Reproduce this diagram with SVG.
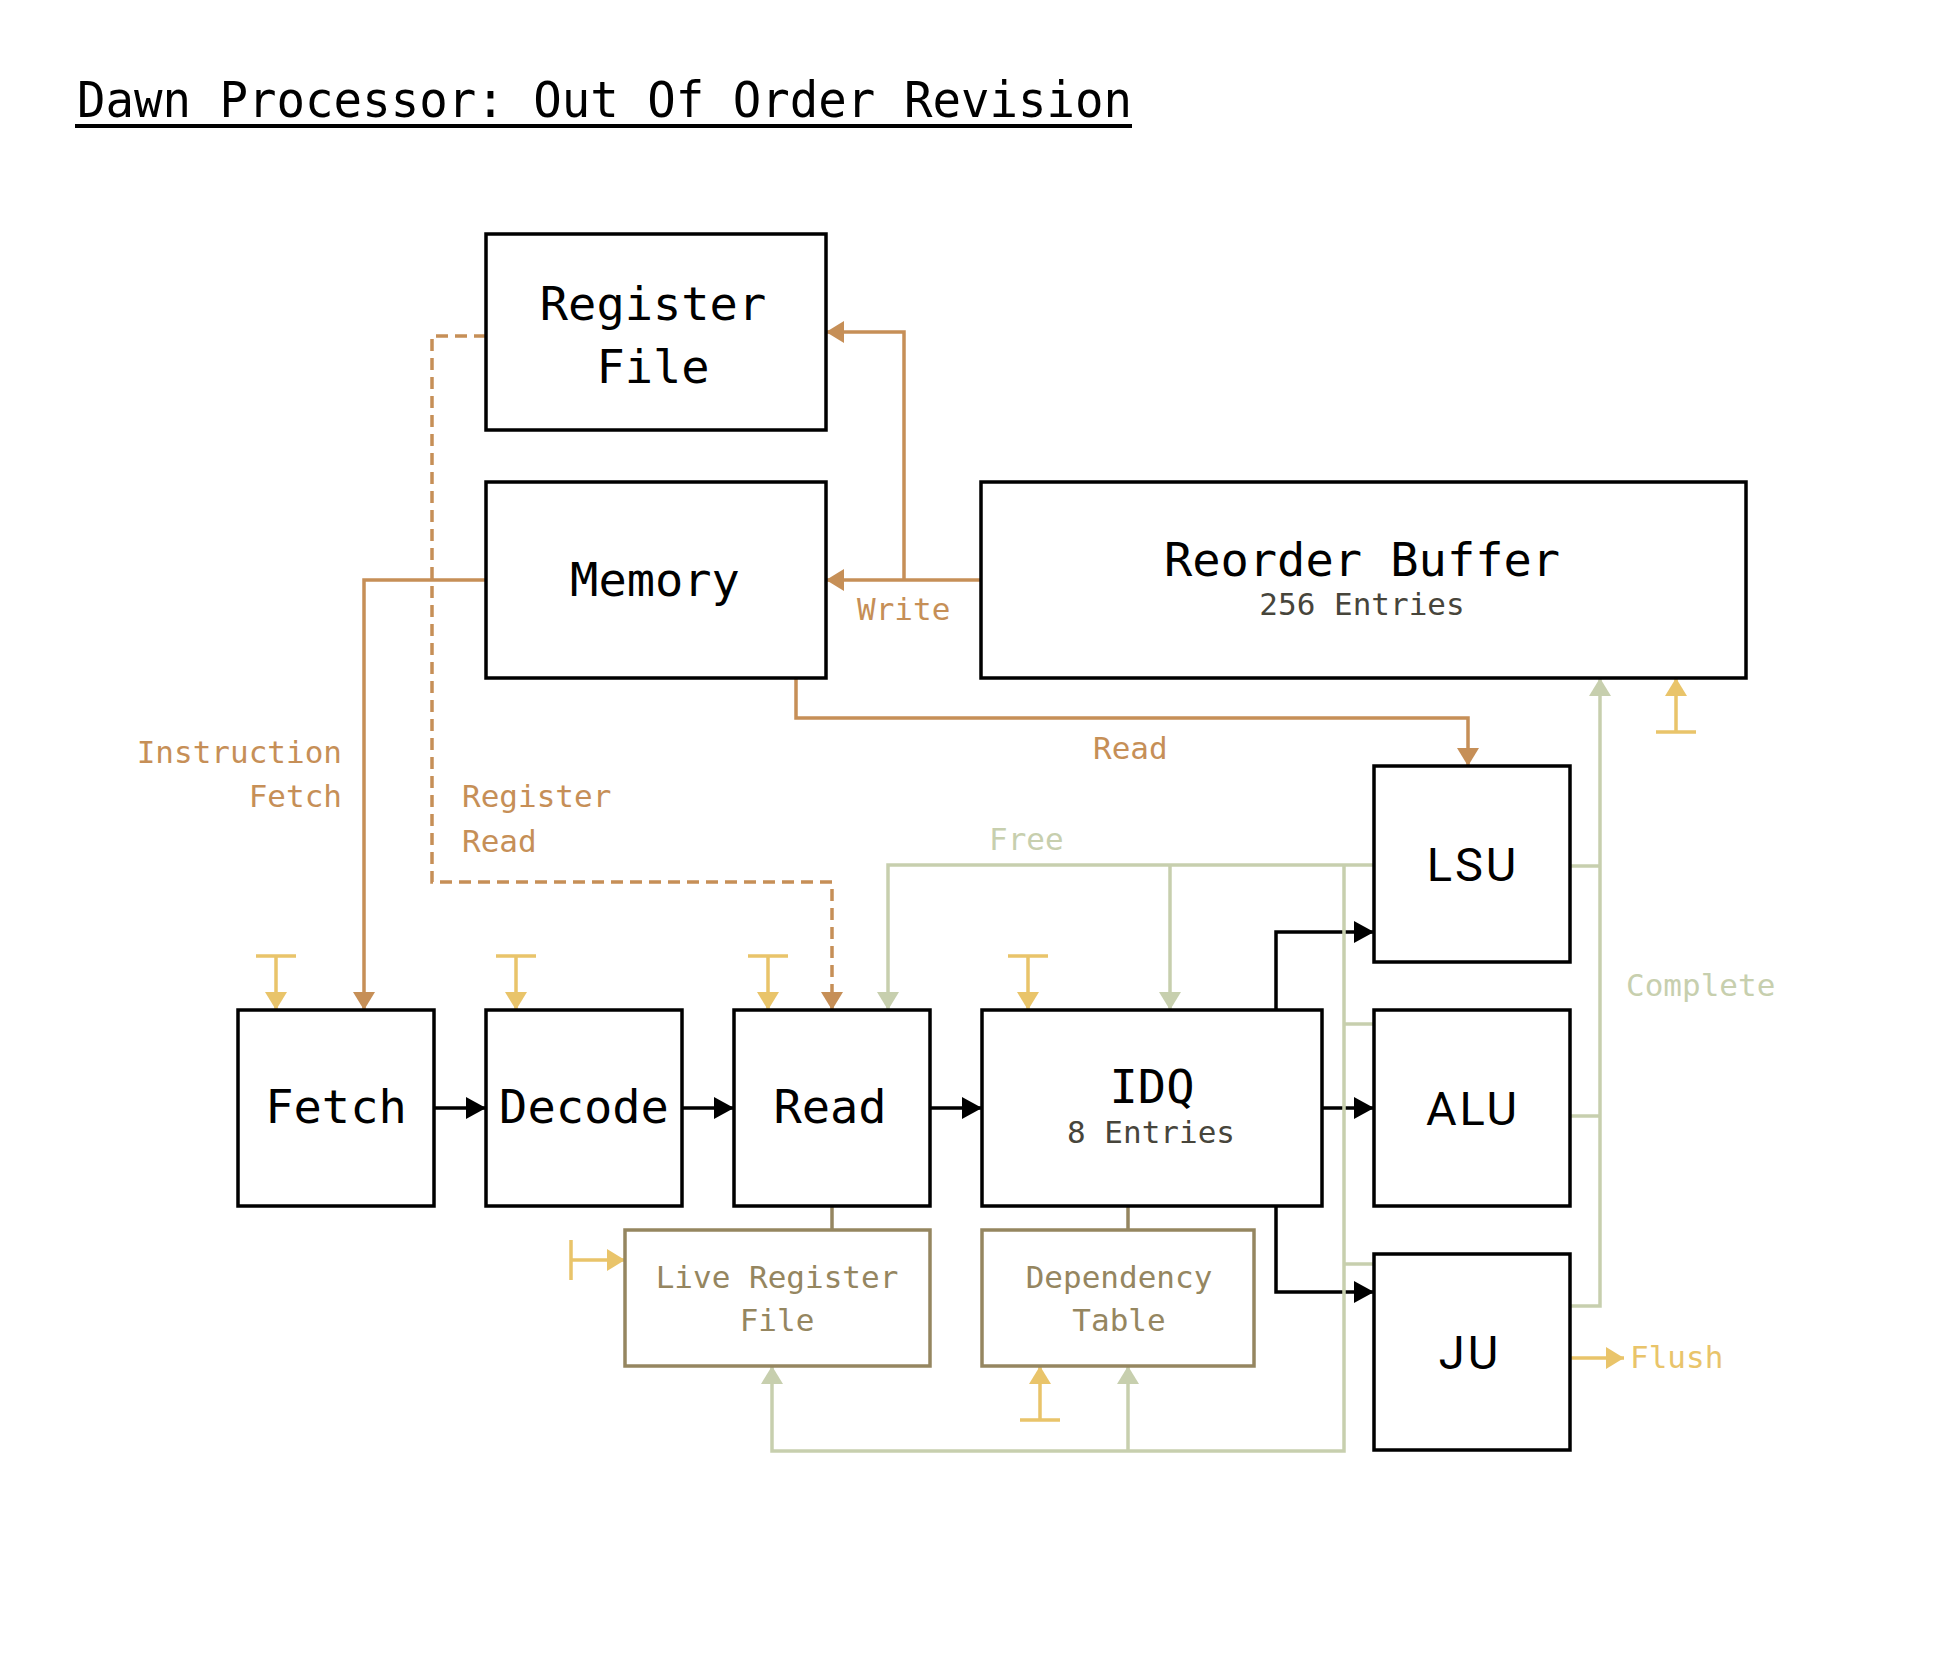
<svg xmlns="http://www.w3.org/2000/svg" width="1960" height="1660" viewBox="0 0 1960 1660">
<style>
.box{fill:#fff;stroke:#000;stroke-width:3.5}
.sub{fill:#fff;stroke:#958660;stroke-width:3.5}
.lbl{font-family:"DejaVu Sans Mono","Liberation Mono",monospace;font-size:47px;fill:#000;text-anchor:middle}
.unit{font-family:Roboto,"Liberation Sans",sans-serif;font-size:47px;fill:#000;text-anchor:middle;letter-spacing:3px}
.small{font-family:"DejaVu Sans Mono","Liberation Mono",monospace;font-size:31px}
.dark{fill:#47453b;text-anchor:middle}
.oliv{fill:#958660;text-anchor:middle}
.brn{fill:#c68f57}
.grn{fill:#c7cfae}
.yel{fill:#e9c46a}
.cb{fill:none;stroke:#c68f57;stroke-width:3.5}
.cg{fill:none;stroke:#c7cfae;stroke-width:3.5}
.cy{fill:none;stroke:#e9c46a;stroke-width:3.5}
.ck{fill:none;stroke:#000;stroke-width:3.5}
.co{fill:none;stroke:#958660;stroke-width:3.5}
</style>
<defs>
<marker id="ak" markerUnits="userSpaceOnUse" markerWidth="20" markerHeight="22" refX="20" refY="11" orient="auto"><path d="M0,0 L20,11 L0,22 z" fill="#000"/></marker>
<marker id="ab" markerUnits="userSpaceOnUse" markerWidth="18" markerHeight="22" refX="18" refY="11" orient="auto"><path d="M0,0 L18,11 L0,22 z" fill="#c68f57"/></marker>
<marker id="ag" markerUnits="userSpaceOnUse" markerWidth="18" markerHeight="22" refX="18" refY="11" orient="auto"><path d="M0,0 L18,11 L0,22 z" fill="#c7cfae"/></marker>
<marker id="ay" markerUnits="userSpaceOnUse" markerWidth="18" markerHeight="22" refX="18" refY="11" orient="auto"><path d="M0,0 L18,11 L0,22 z" fill="#e9c46a"/></marker>
</defs>
<rect width="1960" height="1660" fill="#fff"/>
<g id="title">
<text x="77" y="117" font-family="DejaVu Sans Mono, Liberation Mono, monospace" font-size="50" textLength="1055" lengthAdjust="spacingAndGlyphs">Dawn Processor: Out Of Order Revision</text>
<line x1="75" y1="126" x2="1132" y2="126" stroke="#000" stroke-width="4"/>
</g>
<g id="connectors">
<path class="ck" d="M434,1108 H486" marker-end="url(#ak)"/>
<path class="ck" d="M682,1108 H734" marker-end="url(#ak)"/>
<path class="ck" d="M930,1108 H982" marker-end="url(#ak)"/>
<path class="ck" d="M1322,1108 H1374" marker-end="url(#ak)"/>
<path class="ck" d="M1276,1010 V932 H1374" marker-end="url(#ak)"/>
<path class="ck" d="M1276,1206 V1292 H1374" marker-end="url(#ak)"/>
<path class="cb" d="M981,580 H826" marker-end="url(#ab)"/>
<path class="cb" d="M904,580 V332 H826" marker-end="url(#ab)"/>
<path class="cb" d="M486,580 H364 V1010" marker-end="url(#ab)"/>
<path class="cb" d="M796,678 V718 H1468 V766" marker-end="url(#ab)"/>
<path class="cb" d="M486,336 H432 V882 H832 V1010" stroke-dasharray="12 7" marker-end="url(#ab)"/>
<path class="cg" d="M1374,865 H888 V1010" marker-end="url(#ag)"/>
<path class="cg" d="M1170,865 V1010" marker-end="url(#ag)"/>
<path class="cg" d="M1344,865 V1451 H772 V1366" marker-end="url(#ag)"/>
<path class="cg" d="M1128,1451 V1366" marker-end="url(#ag)"/>
<path class="cg" d="M1344,1024 H1374"/>
<path class="cg" d="M1344,1264 H1374"/>
<path class="cg" d="M1570,866 H1600"/>
<path class="cg" d="M1570,1116 H1600"/>
<path class="cg" d="M1570,1306 H1600 V678" marker-end="url(#ag)"/>
<path class="co" d="M832,1206 V1230"/>
<path class="co" d="M1128,1206 V1230"/>
<path class="cy" d="M256,956 H296 M276,956 V1010" marker-end="url(#ay)"/>
<path class="cy" d="M496,956 H536 M516,956 V1010" marker-end="url(#ay)"/>
<path class="cy" d="M748,956 H788 M768,956 V1010" marker-end="url(#ay)"/>
<path class="cy" d="M1008,956 H1048 M1028,956 V1010" marker-end="url(#ay)"/>
<path class="cy" d="M1656,732 H1696 M1676,732 V678" marker-end="url(#ay)"/>
<path class="cy" d="M571,1240 V1280 M571,1260 H625" marker-end="url(#ay)"/>
<path class="cy" d="M1020,1420 H1060 M1040,1420 V1366" marker-end="url(#ay)"/>
<path class="cy" d="M1570,1358 H1624" marker-end="url(#ay)"/>
<text class="small brn" x="857" y="620">Write</text>
<text class="small brn" x="1093" y="759">Read</text>
<text class="small brn" x="342" y="763" text-anchor="end">Instruction</text>
<text class="small brn" x="342" y="807" text-anchor="end">Fetch</text>
<text class="small brn" x="462" y="807">Register</text>
<text class="small brn" x="462" y="852">Read</text>
<text class="small grn" x="989" y="850">Free</text>
<text class="small grn" x="1626" y="996">Complete</text>
<text class="small yel" x="1630" y="1368">Flush</text>
</g>
<g id="regfile"><rect class="box" x="486" y="234" width="340" height="196"/><text class="lbl" x="653" y="320">Register</text><text class="lbl" x="653" y="383">File</text></g>
<g id="memory"><rect class="box" x="486" y="482" width="340" height="196"/><text class="lbl" x="655" y="596">Memory</text></g>
<g id="rob"><rect class="box" x="981" y="482" width="765" height="196"/><text class="lbl" x="1362" y="576">Reorder Buffer</text><text class="small dark" x="1362" y="615">256 Entries</text></g>
<g id="fetch"><rect class="box" x="238" y="1010" width="196" height="196"/><text class="lbl" x="336" y="1123">Fetch</text></g>
<g id="decode"><rect class="box" x="486" y="1010" width="196" height="196"/><text class="lbl" x="584" y="1123">Decode</text></g>
<g id="read"><rect class="box" x="734" y="1010" width="196" height="196"/><text class="lbl" x="830" y="1123">Read</text></g>
<g id="idq"><rect class="box" x="982" y="1010" width="340" height="196"/><text class="lbl" x="1152" y="1103">IDQ</text><text class="small dark" x="1151" y="1143">8 Entries</text></g>
<g id="lsu"><rect class="box" x="1374" y="766" width="196" height="196"/><text class="unit" x="1473" y="881">LSU</text></g>
<g id="alu"><rect class="box" x="1374" y="1010" width="196" height="196"/><text class="unit" x="1473" y="1125">ALU</text></g>
<g id="ju"><rect class="box" x="1374" y="1254" width="196" height="196"/><text class="unit" x="1470" y="1369">JU</text></g>
<g id="lrf"><rect class="sub" x="625" y="1230" width="305" height="136"/><text class="small oliv" x="777" y="1288">Live Register</text><text class="small oliv" x="777" y="1331">File</text></g>
<g id="deptable"><rect class="sub" x="982" y="1230" width="272" height="136"/><text class="small oliv" x="1119" y="1288">Dependency</text><text class="small oliv" x="1119" y="1331">Table</text></g>
</svg>
